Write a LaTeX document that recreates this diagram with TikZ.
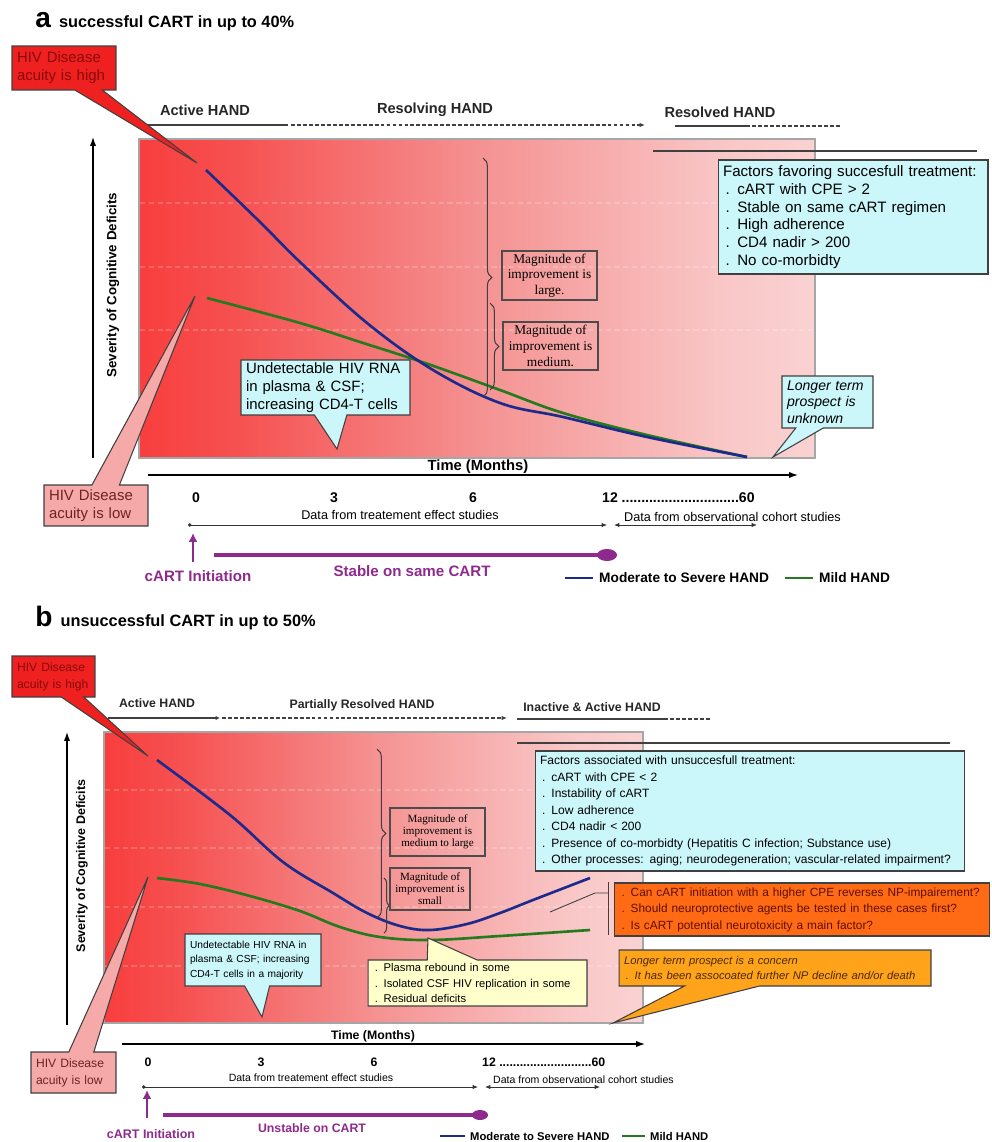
\documentclass[tikz,border=0pt]{standalone}
\usepackage{fontspec}
\setmainfont{Liberation Sans}
\newfontfamily\timesfont{Liberation Serif}
\usetikzlibrary{arrows.meta,shapes.callouts,decorations.pathreplacing}

\definecolor{hivred}{HTML}{EE2020}
\definecolor{hivredtext}{HTML}{8B0A0A}
\definecolor{lowpink}{HTML}{F5A9A9}
\definecolor{lowtext}{HTML}{6E2323}
\definecolor{cyanfill}{HTML}{CBF6FA}
\definecolor{cartpurple}{HTML}{8E2A8E}
\definecolor{severeblue}{HTML}{1C2A8C}
\definecolor{mildgreen}{HTML}{247A1C}
\definecolor{questorange}{HTML}{FF6A14}
\definecolor{questtext}{HTML}{5E0F00}
\definecolor{concernamber}{HTML}{FFA31A}
\definecolor{concerntext}{HTML}{4A2A00}
\definecolor{reboundyellow}{HTML}{FFFFCC}
\definecolor{fadeA}{HTML}{FF0D0D}
\definecolor{fadeB}{HTML}{FC2424}
\definecolor{fadeC}{HTML}{F65050}
\definecolor{fadeD}{HTML}{F59191}
\definecolor{fadeE}{HTML}{F9C6C6}
\definecolor{fadeF}{HTML}{FCE3E3}
\definecolor{fadeG}{HTML}{FFF7F7}
\pgfdeclarehorizontalshading{redfade}{100bp}{color(0bp)=(fadeA); color(15bp)=(fadeB); color(32bp)=(fadeC); color(50bp)=(fadeD); color(68bp)=(fadeE); color(85bp)=(fadeF); color(100bp)=(fadeG)}

\newcommand\fsz[2]{\fontsize{#1}{#2}\selectfont}

\tikzset{
  paneltitle/.style={inner sep=0pt, font=\bfseries\fsz{9.3}{11}},
  stagelbl/.style={font=\bfseries\fsz{8.3}{10}, text=black!85},
  axislbl/.style={font=\bfseries\fsz{7.6}{9}},
  timelbl/.style={font=\bfseries\fsz{8.4}{10}},
  ticklbl/.style={font=\bfseries\fsz{8}{10}},
  datalbl/.style={font=\fsz{7.2}{9}},
  cartlbl/.style={font=\bfseries\fsz{8.6}{10}, text=cartpurple},
  legendlbl/.style={font=\bfseries\fsz{7.8}{9}},
  calloutbox/.style={rectangle callout, draw=black!75, line width=0.6pt, align=left, inner xsep=0.1cm, inner ysep=1pt},
  infobox/.style={draw=black!75, line width=0.6pt, align=left, inner xsep=0.1cm, inner ysep=1pt},
  magbox/.style={draw=black!70, line width=0.6pt, align=center, inner sep=1pt, font=\timesfont\fsz{7.6}{8.9}},
  plotframe/.style={draw=black!35, line width=0.8pt},
  faintgrid/.style={white, opacity=0.2, dash pattern=on 3pt off 2pt, line width=0.6pt},
  severe/.style={severeblue, line width=1.5pt},
  mild/.style={mildgreen, line width=1.5pt},
  axisarrow/.style={-{Latex[length=5pt,width=3.5pt]}, line width=0.7pt},
  stageline/.style={black!75, line width=0.7pt},
  stagedash/.style={stageline, dash pattern=on 2.2pt off 1.2pt},
  dataline/.style={black!80, line width=0.5pt},
  cartline/.style={cartpurple, line width=2pt},
  cartarrow/.style={cartpurple, line width=1.6pt, -{Latex[length=5pt,width=5pt]}},
  bracemark/.style={decorate, decoration={brace, amplitude=5pt}, black!75, line width=0.6pt}
}

\begin{document}
\begin{tikzpicture}[x=0.02cm,y=-0.02cm]
\useasboundingbox (0,0) rectangle (991,1142);

% ---------- panel a
\node[paneltitle, anchor=base west] (titlea) at (35,28) {{\fsz{16}{16}a}\hspace{2pt} successful CART in up to 40\%};

\shade[shading=redfade] (139,139) rectangle (815,458);
\foreach \gy in {203,267,330} \draw[faintgrid] (140,\gy) -- (814,\gy);
\draw[plotframe] (139,139) rectangle (815,458);
\draw[stageline] (653,151) -- (977,151);

\coordinate (yfoota) at (93,458);
\coordinate (yheada) at (93,137);
\draw[axisarrow] (yfoota) -- (yheada);
\node[axislbl, rotate=90] (severitya) at (113,285) {Severity of Cognitive Deficits};
\coordinate (tfoota) at (148,475);
\coordinate (theada) at (798,475);
\draw[axisarrow] (tfoota) -- (theada);
\node[timelbl] (timea) at (478,467) {Time (Months)};

\node[stagelbl] (activea) at (205,110) {Active HAND};
\node[stagelbl] (resolvinga) at (435,110) {Resolving HAND};
\node[stagelbl] (resolveda) at (720,112) {Resolved HAND};
\draw[stageline] (147,125) -- (288,125);
\draw[stagedash, -{Latex[length=3pt,width=2.5pt]}] (291,125) -- (645,125);
\draw[stageline] (675,126) -- (750,126);
\draw[stagedash] (752,126) -- (840,126);

\node[ticklbl] (zeroa) at (196,498) {0};
\node[ticklbl] (threea) at (334,498) {3};
\node[ticklbl] (sixa) at (473,498) {6};
\node[ticklbl, anchor=west] (twelvea) at (596,498) {12 ..............................60};
\node[datalbl] (treata) at (400,515) {Data from treatement effect studies};
\draw[dataline, {Circle[length=2pt]}-{Latex[length=3pt,width=2.5pt]}] (188,525) -- (607,525);
\node[datalbl, anchor=west] (cohorta) at (618,517) {Data from observational cohort studies};
\draw[dataline, {Latex[length=3pt,width=2.5pt]}-{Latex[length=3pt,width=2.5pt]}] (614,525) -- (757,525);

\draw[cartarrow] (193,562) -- (193,533);
\node[cartlbl] (inita) at (198,576) {cART Initiation};
\draw[cartline] (214,555) -- (600,555);
\fill[cartpurple] (607,555) ellipse [x radius=0.2cm, y radius=0.12cm];
\node[cartlbl] (stablea) at (412,571) {Stable on same CART};

\draw[severe] (565,578) -- (593,578);
\node[legendlbl, anchor=west] (severea) at (593,578) {Moderate to Severe HAND};
\draw[mild] (785,578) -- (813,578);
\node[legendlbl, anchor=west] (milda) at (813,578) {Mild HAND};

\draw[mild] plot[smooth, tension=0.6] coordinates {(207,298) (300,323) (360,342) (425,363) (500,390) (563,413) (647,435) (747,457)};
\draw[severe] plot[smooth, tension=0.6] coordinates {(206,170) (260,222) (300,262) (367,323) (433,370) (500,403) (563,417) (647,437) (747,457)};

\draw[bracemark] (483,158) -- (483,397);
\draw[bracemark] (490,303) -- (490,390);
\node[magbox, minimum width=1.9cm, minimum height=0.98cm] (largea) at (549.5,275.5) {Magnitude of\\improvement is\\large.};
\node[magbox, minimum width=1.9cm, minimum height=0.96cm] (mediuma) at (550.5,346) {Magnitude of\\improvement is\\medium.};

\coordinate (hightipa) at (197,163);
\node[calloutbox, fill=hivred, text=hivredtext, text width=1.88cm, minimum height=0.88cm, callout absolute pointer={(hightipa)}, callout pointer width=0.55cm, font=\fsz{8.5}{10.2}] (higha) at (64,68) {HIV Disease\\acuity is high};
\coordinate (lowtipa) at (195,296);
\node[calloutbox, fill=lowpink, text=lowtext, text width=1.88cm, minimum height=0.82cm, callout absolute pointer={(lowtipa)}, callout pointer width=0.55cm, font=\fsz{8.5}{10.2}] (lowa) at (96,505.5) {HIV Disease\\acuity is low};
\coordinate (rnatipa) at (337,449);
\node[calloutbox, fill=cyanfill, text width=3.18cm, minimum height=1.1cm, callout absolute pointer={(rnatipa)}, callout pointer width=0.65cm, font=\fsz{8.5}{10.2}] (rnaa) at (325.5,387.5) {Undetectable HIV RNA\\in plasma \& CSF;\\increasing CD4-T cells};
\coordinate (longtipa) at (773,457);
\node[calloutbox, fill=cyanfill, text width=1.62cm, minimum height=1.04cm, callout absolute pointer={(longtipa)}, callout pointer width=0.55cm, font=\itshape\fsz{8}{9.4}] (longa) at (827.5,402) {Longer term\\prospect is\\unknown};
\node[infobox, fill=cyanfill, text width=5.2cm, minimum height=2.28cm, font=\fsz{8.6}{10.1}] (factorsa) at (853,217) {Factors favoring succesfull treatment:\\\,. cART with CPE > 2\\\,. Stable on same cART regimen\\\,. High adherence\\\,. CD4 nadir > 200\\\,. No co-morbidty};

% ---------- panel b
\node[paneltitle, anchor=base west] (titleb) at (35,626) {{\fsz{16}{16}b}\hspace{2pt} unsuccessful CART in up to 50\%};

\shade[shading=redfade] (104,732) rectangle (643,1023);
\foreach \gy in {790,848,907,966} \draw[faintgrid] (105,\gy) -- (642,\gy);
\draw[plotframe] (104,732) rectangle (643,1023);
\draw[stageline] (517,743) -- (950,743);

\coordinate (yfootb) at (67,1025);
\coordinate (yheadb) at (67,732);
\draw[axisarrow] (yfootb) -- (yheadb);
\node[axislbl, rotate=90, font=\bfseries\fsz{7.1}{9}] (severityb) at (82,866) {Severity of Cognitive Deficits};
\coordinate (tfootb) at (122,1044);
\coordinate (theadb) at (645,1044);
\draw[axisarrow] (tfootb) -- (theadb);
\node[timelbl, font=\bfseries\fsz{7}{9}] (timeb) at (373,1036) {Time (Months)};

\node[stagelbl, font=\bfseries\fsz{7}{9}] (activeb) at (157,703) {Active HAND};
\node[stagelbl, font=\bfseries\fsz{7}{9}] (partialb) at (362,705) {Partially Resolved HAND};
\node[stagelbl, font=\bfseries\fsz{7}{9}] (inactiveb) at (592,707) {Inactive \& Active HAND};
\draw[stageline, -{Latex[length=2.5pt,width=2.5pt]}] (108,718) -- (220,718);
\draw[stagedash, -{Latex[length=3pt,width=2.5pt]}] (222,718) -- (507,718);
\draw[stageline] (517,719) -- (668,719);
\draw[stagedash] (670,719) -- (710,719);

\node[ticklbl, font=\bfseries\fsz{7}{9}] (zerob) at (148,1062) {0};
\node[ticklbl, font=\bfseries\fsz{7}{9}] (threeb) at (261,1062) {3};
\node[ticklbl, font=\bfseries\fsz{7}{9}] (sixb) at (374,1062) {6};
\node[ticklbl, font=\bfseries\fsz{7}{9}, anchor=west] (twelveb) at (476,1062) {12 ...........................60};
\node[datalbl, font=\fsz{6}{8}] (treatb) at (311,1078) {Data from treatement effect studies};
\draw[dataline, {Circle[length=2pt]}-{Latex[length=3pt,width=2.5pt]}] (142,1087) -- (478,1087);
\node[datalbl, font=\fsz{6}{8}, anchor=west] (cohortb) at (487,1080) {Data from observational cohort studies};
\draw[dataline, {Latex[length=3pt,width=2.5pt]}-{Latex[length=3pt,width=2.5pt]}] (485,1087) -- (600,1087);

\draw[cartarrow] (147,1118) -- (147,1090);
\node[cartlbl, font=\bfseries\fsz{7.1}{9}] (initb) at (151,1134) {cART Initiation};
\draw[cartline] (163,1115) -- (474,1115);
\fill[cartpurple] (480,1115) ellipse [x radius=0.16cm, y radius=0.1cm];
\node[cartlbl, font=\bfseries\fsz{7}{9}] (unstableb) at (312,1128) {Unstable on CART};

\draw[severe] (440,1136) -- (465,1136);
\node[legendlbl, font=\bfseries\fsz{6.4}{8}, anchor=west] (severeb) at (464,1136) {Moderate to Severe HAND};
\draw[mild] (622,1136) -- (645,1136);
\node[legendlbl, font=\bfseries\fsz{6.4}{8}, anchor=west] (mildb) at (644,1136) {Mild HAND};

\draw[mild] plot[smooth, tension=0.6] coordinates {(157,878) (200,884) (250,896) (300,911) (340,927) (380,937) (430,940) (500,936) (590,930)};
\draw[severe] plot[smooth, tension=0.6] coordinates {(157,760) (230,815) (283,862) (333,893) (367,913) (400,926) (430,930) (467,924) (500,913) (533,900) (590,878)};

\draw[bracemark] (377,749) -- (377,918);
\draw[bracemark, decoration={brace, amplitude=3pt}] (384,878) -- (384,933);
\node[magbox, font=\timesfont\fsz{6.3}{6.9}, minimum width=1.9cm, minimum height=0.96cm] (medlargeb) at (437.5,832) {Magnitude of\\improvement is\\medium to large};
\node[magbox, font=\timesfont\fsz{6.3}{6.9}, minimum width=1.6cm, minimum height=0.84cm] (smallb) at (430,889) {Magnitude of\\improvement is\\small};

\draw[stageline, line width=0.5pt] (608,882) -- (608,935);
\coordinate (questfoot) at (550,912);
\draw[stageline, line width=0.5pt] (608,893) -- (595,893) -- (questfoot);

\coordinate (hightipb) at (148,756);
\node[calloutbox, fill=hivred, text=hivredtext, text width=1.46cm, minimum height=0.82cm, callout absolute pointer={(hightipb)}, callout pointer width=0.45cm, font=\fsz{6.9}{9.6}] (highb) at (53.5,676.5) {HIV Disease\\acuity is high};
\coordinate (lowtipb) at (148,877);
\node[calloutbox, fill=lowpink, text=lowtext, text width=1.5cm, minimum height=0.82cm, callout absolute pointer={(lowtipb)}, callout pointer width=0.5cm, font=\fsz{6.9}{9.6}] (lowb) at (73.5,1072.5) {HIV Disease\\acuity is low};
\coordinate (rnatipb) at (262,1017);
\node[calloutbox, fill=cyanfill, text width=2.52cm, minimum height=1.04cm, callout absolute pointer={(rnatipb)}, callout pointer width=0.5cm, font=\fsz{5.8}{8.2}] (rnab) at (253,960) {Undetectable HIV RNA in\\plasma \& CSF; increasing\\CD4-T cells in a majority};
\coordinate (reboundtip) at (428,938);
\node[calloutbox, fill=reboundyellow, text width=4.18cm, minimum height=0.92cm, callout absolute pointer={(reboundtip)}, callout pointer width=1cm, font=\fsz{6.4}{8.8}] (reboundb) at (477.5,983) {\,. Plasma rebound in some\\\,. Isolated CSF HIV replication in some\\\,. Residual deficits};
\coordinate (concerntip) at (613,1023);
\node[calloutbox, fill=concernamber, text=concerntext, text width=6.04cm, minimum height=0.72cm, callout absolute pointer={(concerntip)}, callout pointer width=1.5cm, font=\itshape\fsz{6.4}{8.6}] (concernb) at (775,968) {Longer term prospect is a concern\\\,. It has been assocoated further NP decline and/or death};
\node[infobox, fill=cyanfill, text width=8.4cm, minimum height=2.4cm, font=\fsz{6.85}{9.4}] (factorsb) at (750,811) {Factors associated with unsuccesfull treatment:\\\,. cART with CPE < 2\\\,. Instability of cART\\\,. Low adherence\\\,. CD4 nadir < 200\\\,. Presence of co-morbidty (Hepatitis C infection; Substance use)\\\,. Other processes: aging; neurodegeneration; vascular-related impairment?};
\node[infobox, fill=questorange, text=questtext, text width=7.3cm, minimum height=1.06cm, font=\fsz{6.75}{9.4}] (questb) at (802,909.5) {\,. Can cART initiation with a higher CPE reverses NP-impairement?\\\,. Should neuroprotective agents be tested in these cases first?\\\,. Is cART potential neurotoxicity a main factor?};
\end{tikzpicture}
\end{document}
